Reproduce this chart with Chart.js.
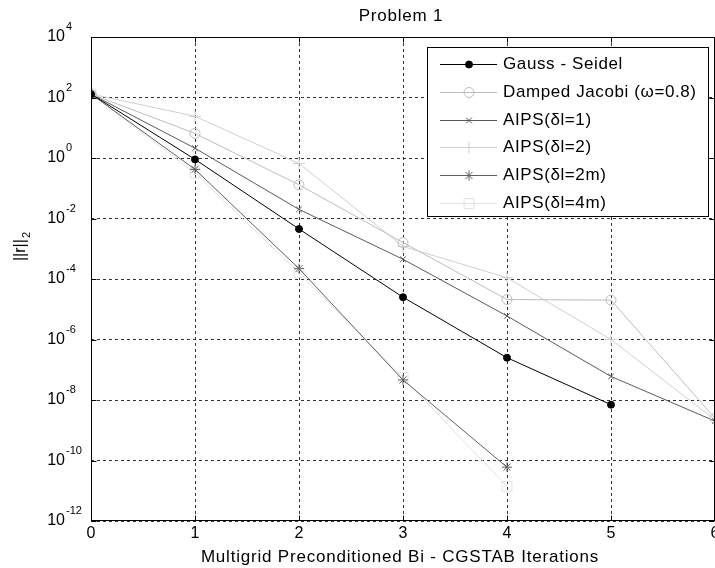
<!DOCTYPE html>
<html>
<head>
<meta charset="utf-8">
<script src="https://cdn.jsdelivr.net/npm/chart.js@4"></script>
<style>
  html, body { margin: 0; padding: 0; background: #fff; }
  #wrap { width: 715px; height: 568px; }
</style>
</head>
<body>
<div id="wrap"><canvas id="chart" width="715" height="568"></canvas></div>
<script>
/* ========= DATA ========= */

const iterations = [0, 1, 2, 3, 4, 5, 6];
const xTicks = [0, 1, 2, 3, 4, 5, 6];
const yExponents = [4, 2, 0, -2, -4, -6, -8, -10, -12];

const gaussSeidel  = [130, 0.9, 4.5e-3, 2.5e-5, 2.5e-7, 7e-9];
const dampedJacobi = [130, 6.5, 0.13, 1.6e-3, 2.1e-5, 2e-5, 2.5e-9];
const aips1        = [130, 2.1, 0.02, 4.5e-4, 6e-6, 6e-8, 2e-9];
const aips2        = [130, 24, 0.66, 1.2e-3, 1.1e-4, 1e-6, 2.2e-9];
const aips2m       = [130, 0.42, 2.2e-4, 4.6e-8, 6e-11];
const aips4m       = [130, 0.32, 1.6e-4, 5.5e-8, 1.4e-11];

const seriesNames = [
  "Gauss - Seidel",
  "Damped Jacobi (\u03c9=0.8)",
  "AIPS(\u03b4l=1)",
  "AIPS(\u03b4l=2)",
  "AIPS(\u03b4l=2m)",
  "AIPS(\u03b4l=4m)"
];

const FONT = "'Liberation Sans', Arial, sans-serif";

/* ========= HELPERS ========= */

function toPoints(values) {
  return values.map((v, i) => ({ x: iterations[i], y: v }));
}

function series(label, values, color, style, radius, fill) {
  return {
    label: label,
    data: toPoints(values),
    borderColor: color,
    backgroundColor: fill,
    borderWidth: 1,
    pointStyle: style,
    pointRadius: radius,
    pointBorderColor: color,
    pointBackgroundColor: fill,
    pointBorderWidth: 1,
    tension: 0
  };
}

const datasets = [
  series(seriesNames[0], gaussSeidel, "#000000", "circle", 3.5, "#000000"),
  series(seriesNames[1], dampedJacobi, "#bdbdbd", "circle", 5, "rgba(0,0,0,0)"),
  series(seriesNames[2], aips1, "#5a5a5a", "crossRot", 4, "rgba(0,0,0,0)"),
  series(seriesNames[3], aips2, "#cfcfcf", "cross", 6, "rgba(0,0,0,0)"),
  series(seriesNames[4], aips2m, "#606060", "star", 5, "rgba(0,0,0,0)"),
  series(seriesNames[5], aips4m, "#e2e2e2", "rect", 7, "rgba(0,0,0,0)")
];

/* ========= FRAME, LABELS, LEGEND ========= */

const framePlugin = {
  id: "frame",
  afterDraw(chart) {
    const ctx = chart.ctx;
    const a = chart.chartArea;
    const xs = chart.scales.x;
    const ys = chart.scales.y;
    const L = Math.round(a.left) + 0.5;
    const R = Math.round(a.right) - 0.5;
    const T = Math.round(a.top) + 0.5;
    const B = Math.round(a.bottom) - 0.5;

    ctx.save();
    ctx.strokeStyle = "#000";
    ctx.lineWidth = 1;
    ctx.setLineDash([]);
    ctx.strokeRect(L, T, R - L, B - T);

    // inward tick marks
    ctx.beginPath();
    xTicks.forEach(v => {
      const px = Math.round(xs.getPixelForValue(v)) + 0.5;
      ctx.moveTo(px, B); ctx.lineTo(px, B - 5);
      ctx.moveTo(px, T); ctx.lineTo(px, T + 5);
    });
    yExponents.forEach(e => {
      const py = Math.round(ys.getPixelForValue(Math.pow(10, e))) + 0.5;
      ctx.moveTo(L, py); ctx.lineTo(L + 5, py);
      ctx.moveTo(R, py); ctx.lineTo(R - 5, py);
    });
    ctx.stroke();

    ctx.fillStyle = "#000";

    // x tick labels
    ctx.font = "16px " + FONT;
    ctx.textAlign = "center";
    ctx.textBaseline = "alphabetic";
    xTicks.forEach(v => {
      ctx.fillText(String(v), xs.getPixelForValue(v), 538);
    });

    // y tick labels with superscript exponents
    yExponents.forEach(e => {
      const py = ys.getPixelForValue(Math.pow(10, e));
      ctx.font = "16px " + FONT;
      ctx.textAlign = "right";
      ctx.textBaseline = "middle";
      ctx.fillText("10", 65, py);
      ctx.font = "11px " + FONT;
      ctx.textAlign = "left";
      ctx.fillText(String(e), 66, py - 10);
    });

    // title
    ctx.font = "17px " + FONT;
    ctx.letterSpacing = "0.8px";
    ctx.textAlign = "center";
    ctx.textBaseline = "alphabetic";
    ctx.fillText("Problem 1", 401, 21);

    // x axis title
    ctx.fillText("Multigrid Preconditioned Bi - CGSTAB Iterations", 400, 562);
    ctx.letterSpacing = "0px";

    // y axis title ||r||_2
    ctx.save();
    ctx.translate(21, 247);
    ctx.rotate(-Math.PI / 2);
    ctx.font = "16px " + FONT;
    const w1 = ctx.measureText("||r||").width;
    ctx.font = "11px " + FONT;
    const w2 = ctx.measureText("2").width;
    const start = -(w1 + w2) / 2;
    ctx.textAlign = "left";
    ctx.textBaseline = "middle";
    ctx.font = "16px " + FONT;
    ctx.fillText("||r||", start, 0);
    ctx.font = "11px " + FONT;
    ctx.fillText("2", start + w1 + 1, 6);
    ctx.restore();

    // legend
    const bx = 427, by = 47, bw = 281, bh = 169;
    ctx.fillStyle = "#fff";
    ctx.fillRect(bx, by, bw, bh);
    ctx.strokeStyle = "#000";
    ctx.strokeRect(bx + 0.5, by + 0.5, bw, bh);
    const rows = [64, 92, 120, 147, 175, 203];
    datasets.forEach((ds, i) => {
      const ry = rows[i] + 0.5;
      ctx.strokeStyle = ds.borderColor;
      ctx.lineWidth = 1;
      ctx.beginPath();
      ctx.moveTo(440, ry);
      ctx.lineTo(497, ry);
      ctx.stroke();
      ctx.fillStyle = ds.pointBackgroundColor;
      ctx.strokeStyle = ds.pointBorderColor;
      Chart.helpers.drawPoint(ctx, {
        pointStyle: ds.pointStyle,
        radius: ds.pointRadius,
        borderWidth: 1,
        rotation: 0
      }, 469, ry);
      ctx.fillStyle = "#000";
      ctx.font = "17px " + FONT;
      ctx.letterSpacing = "0.6px";
      ctx.textAlign = "left";
      ctx.textBaseline = "middle";
      ctx.fillText(ds.label, 503, rows[i]);
      ctx.letterSpacing = "0px";
    });

    ctx.restore();
  }
};

/* ========= CHART ========= */

new Chart(document.getElementById("chart"), {
  type: "line",
  data: { datasets: datasets },
  options: {
    responsive: false,
    animation: false,
    devicePixelRatio: 1,
    layout: { autoPadding: false, padding: { left: 0, right: 0, top: 37, bottom: 0 } },
    plugins: {
      legend: { display: false },
      title: { display: false },
      tooltip: { enabled: false }
    },
    scales: {
      x: {
        type: "linear",
        min: 0,
        max: 6,
        ticks: { display: false, stepSize: 1 },
        afterBuildTicks: s => { s.ticks = xTicks.map(v => ({ value: v })); },
        afterFit: s => { s.height = 47; },
        grid: { color: "#333", drawTicks: false, lineWidth: 1 },
        border: { display: false, dash: [3, 3] }
      },
      y: {
        type: "logarithmic",
        min: 1e-12,
        max: 1e4,
        ticks: { display: false },
        afterBuildTicks: s => { s.ticks = yExponents.map(e => ({ value: Math.pow(10, e) })); },
        afterFit: s => { s.width = 91; },
        grid: { color: "#333", drawTicks: false, lineWidth: 1 },
        border: { display: false, dash: [3, 3] }
      }
    }
  },
  plugins: [framePlugin]
});
</script>
</body>
</html>
